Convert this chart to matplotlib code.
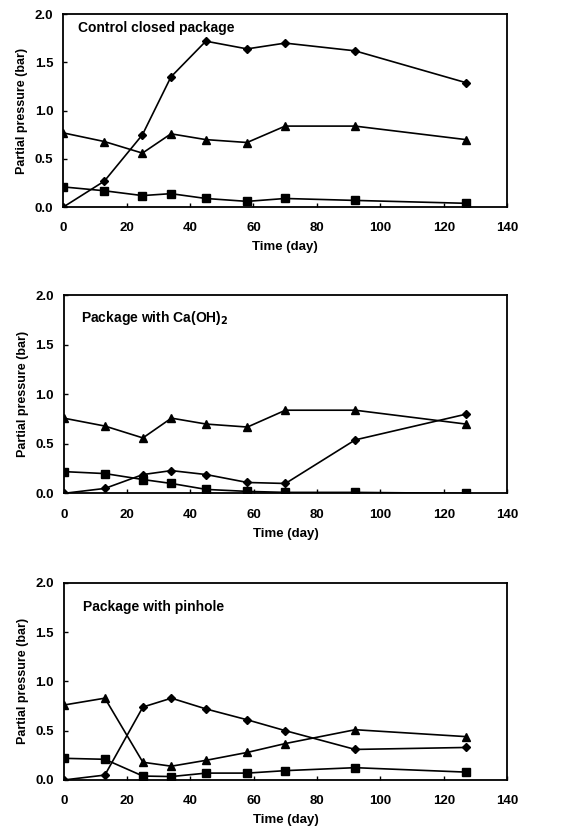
import matplotlib
matplotlib.use("Agg")
import matplotlib.pyplot as plt

plt.rcParams['font.family'] = ['Liberation Sans', 'DejaVu Sans']
plt.rcParams['font.weight'] = 'bold'

days = [0, 13, 25, 34, 45, 58, 70, 92, 127]

titles = ["Control closed package", "Package with Ca(OH)$_{\\mathbf{2}}$", "Package with pinhole"]

# panel 1: control
ctrl_diamond = [0.0, 0.27, 0.75, 1.35, 1.72, 1.64, 1.70, 1.62, 1.29]
ctrl_triangle = [0.77, 0.68, 0.56, 0.76, 0.70, 0.67, 0.84, 0.84, 0.70]
ctrl_square = [0.21, 0.17, 0.12, 0.14, 0.09, 0.06, 0.09, 0.07, 0.04]

# panel 2: Ca(OH)2
caoh_diamond = [0.0, 0.05, 0.19, 0.23, 0.19, 0.11, 0.10, 0.54, 0.80]
caoh_triangle = [0.76, 0.68, 0.56, 0.76, 0.70, 0.67, 0.84, 0.84, 0.70]
caoh_square = [0.22, 0.20, 0.14, 0.10, 0.04, 0.02, 0.01, 0.01, 0.0]

# panel 3: pinhole
pin_diamond = [0.0, 0.05, 0.74, 0.83, 0.72, 0.61, 0.50, 0.31, 0.33]
pin_triangle = [0.76, 0.83, 0.18, 0.14, 0.20, 0.28, 0.37, 0.51, 0.44]
pin_square = [0.22, 0.21, 0.04, 0.035, 0.07, 0.07, 0.095, 0.125, 0.08]

panels = [
    (ctrl_diamond, ctrl_triangle, ctrl_square),
    (caoh_diamond, caoh_triangle, caoh_square),
    (pin_diamond, pin_triangle, pin_square),
]

fig = plt.figure(figsize=(5.79, 8.32), dpi=100)
positions = [
    [0.109, 0.751, 0.767, 0.232],
    [0.110, 0.407, 0.766, 0.238],
    [0.110, 0.0625, 0.766, 0.237],
]
title_pos = [(0.034, 0.93), (0.04, 0.885), (0.043, 0.878)]

for pos, tpos, title, (dia, tri, sq) in zip(positions, title_pos, titles, panels):
    ax = fig.add_axes(pos)
    ax.plot(days, dia, color='black', lw=1.2, marker='D', ms=4.5)
    ax.plot(days, tri, color='black', lw=1.2, marker='^', ms=6)
    ax.plot(days, sq, color='black', lw=1.2, marker='s', ms=5.5)
    ax.set_xlim(0, 140)
    ax.set_ylim(0, 2.0)
    ax.set_xticks(range(0, 141, 20))
    ax.set_yticks([0, 0.5, 1.0, 1.5, 2.0])
    ax.set_yticklabels(['0.0', '0.5', '1.0', '1.5', '2.0'])
    ax.tick_params(direction='in', length=3, width=1, labelsize=9.5)
    ax.tick_params(axis='x', pad=11)
    ax.tick_params(axis='y', pad=7)
    for lbl in ax.get_xticklabels() + ax.get_yticklabels():
        lbl.set_fontweight('bold')
    for sp in ax.spines.values():
        sp.set_linewidth(1.3)
    ax.set_xlabel("Time (day)", fontsize=9.5, fontweight='bold', labelpad=5)
    ax.set_ylabel("Partial pressure (bar)", fontsize=9, fontweight='bold', labelpad=5)
    ax.text(tpos[0], tpos[1], title, transform=ax.transAxes, fontsize=10,
            fontweight='bold', va='center', ha='left')

fig.savefig("out.png", dpi=100)
